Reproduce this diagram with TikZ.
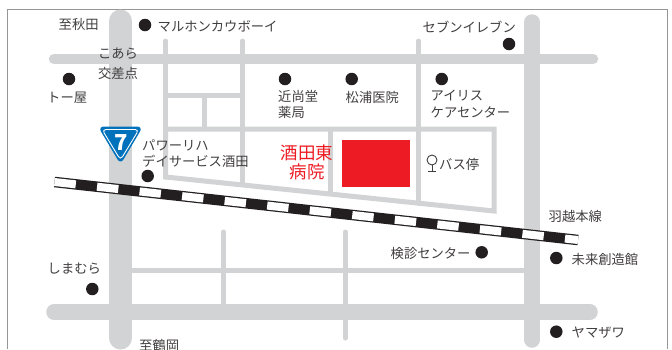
\documentclass[tikz,border=0pt]{standalone}
\usepackage{fontspec}
\setmainfont{Noto Sans CJK JP}
\definecolor{road}{RGB}{209,211,212}
\definecolor{ink}{RGB}{65,62,63}
\definecolor{dot}{RGB}{35,31,32}
\definecolor{frm}{RGB}{150,150,150}
\definecolor{hosp}{RGB}{237,28,36}
\definecolor{signb}{RGB}{0,114,188}
\tikzset{
 x=1pt,y=-1pt,
 main/.style={road,line width=23pt,line cap=round},
 wide/.style={road,line width=15.5pt,line cap=round},
 mid/.style={road,line width=10.5pt,line cap=round},
 thin/.style={road,line width=5pt,line cap=round},
 thinb/.style={road,line width=5pt},
 lbl/.style={text=ink,font=\fontsize{13.3}{16}\selectfont,inner sep=0pt,anchor=west},
 spot/.style={circle,fill=dot,minimum size=12.5pt,inner sep=0pt,draw=none},
}
\begin{document}
\begin{tikzpicture}
\useasboundingbox (0,0) rectangle (672,349);
\fill[white] (0,0) rectangle (672,349);
\draw[frm,line width=1pt] (7.5,349) -- (7.5,9) -- (667.5,9) -- (667.5,349);
% thin roads
\draw[thin] (165.7,41) -- (165.7,177);
\draw[thin] (242.7,41) -- (242.7,184);
\draw[thin] (418.7,41) -- (418.7,203);
\draw[thinb] (165.7,95) -- (242.7,95);
\draw[thinb] (204,95) -- (204,129);
\draw[thinb] (165.7,129) -- (494,129) -- (494,211) -- (165.7,177) -- cycle;
\draw[thinb] (330.5,129) -- (330.5,194);
\draw[thin] (223.7,232) -- (223.7,306);
\draw[thin] (345.3,232) -- (345.3,338);
\draw[thinb] (125,270) -- (530,270);
% main roads
\draw[mid] (54,59) -- (593,59);
\draw[wide] (54,312) -- (590,312);
\draw[main] (120.5,21) -- (120.5,338);
\draw[wide] (532,22) -- (532,340);
% railway
\coordinate (r1) at (54.5,182); \coordinate (r2) at (578,240);
\draw[dot,line width=10.5pt] (r1) -- (r2);
\draw[white,line width=8pt,dash pattern=on 21.4pt off 21.4pt] (r1) -- (r2);
% site
\node[fill=hosp,minimum width=68pt,minimum height=47pt,inner sep=0pt] (site) at (376,163.5) {};
\node[text=hosp,font=\fontsize{17.5}{19}\selectfont,inner sep=0pt,align=center] (hn) at (307,162.5) {酒田東\\病院};
% route sign
\fill[signb,rounded corners=6pt] (98,126.5) -- (143,126.5) -- (120.5,164.5) -- cycle;
\draw[white,line width=0.9pt,rounded corners=4pt] (102,129.5) -- (139,129.5) -- (120.5,160) -- cycle;
\node[text=white,font=\fontsize{22}{22}\selectfont\bfseries,inner sep=0pt] (rt) at (121,142.7) {7};
% spots
\node[spot] (s1) at (145,25) {};
\node[spot] (s2) at (69,79) {};
\node[spot] (s3) at (285,79) {};
\node[spot] (s4) at (351.7,79) {};
\node[spot] (s5) at (441.7,79) {};
\node[spot] (s6) at (509,44) {};
\node[spot] (s7) at (147.7,176) {};
\node[spot] (s8) at (92.3,289) {};
\node[spot] (s9) at (481.7,252.3) {};
\node[spot] (s10) at (556.3,258) {};
\node[spot] (s11) at (556.3,331.7) {};
% labels
\node[lbl] (t1) at (58.5,24) {至秋田};
\node[lbl] (t2) at (157.5,26) {マルホンカウボーイ};
\node[lbl,anchor=center] (t3) at (118,54) {こあら};
\node[lbl,anchor=center] (t4) at (118,73) {交差点};
\node[lbl] (t5) at (47,98) {トー屋};
\node[lbl] (t6) at (278,96) {近尚堂};
\node[lbl] (t7) at (278,112) {薬局};
\node[lbl] (t8) at (345.5,97) {松浦医院};
\node[lbl] (t9) at (430.5,96) {アイリス};
\node[lbl] (t10) at (430.5,112) {ケアセンター};
\node[lbl] (t11) at (422.5,27) {セブンイレブン};
\node[lbl] (t12) at (142,145) {パワーリハ};
\node[lbl] (t13) at (142,161) {デイサービス酒田};
\node[lbl] (t14) at (439,164) {バス停};
\node[lbl] (t15) at (548.5,216) {羽越本線};
\node[lbl] (t16) at (390.5,253.5) {検診センター};
\node[lbl] (t17) at (571.5,259) {未来創造館};
\node[lbl] (t18) at (571.5,333) {ヤマザワ};
\node[lbl] (t19) at (47.5,269) {しまむら};
\node[lbl] (t20) at (139,345) {至鶴岡};
% bus stop
\draw[ink,line width=0.9pt] (432,160) circle (5pt);
\draw[ink,line width=0.9pt] (432,165) -- (432,171.7) (428,171.7) -- (436,171.7);
\end{tikzpicture}
\end{document}
